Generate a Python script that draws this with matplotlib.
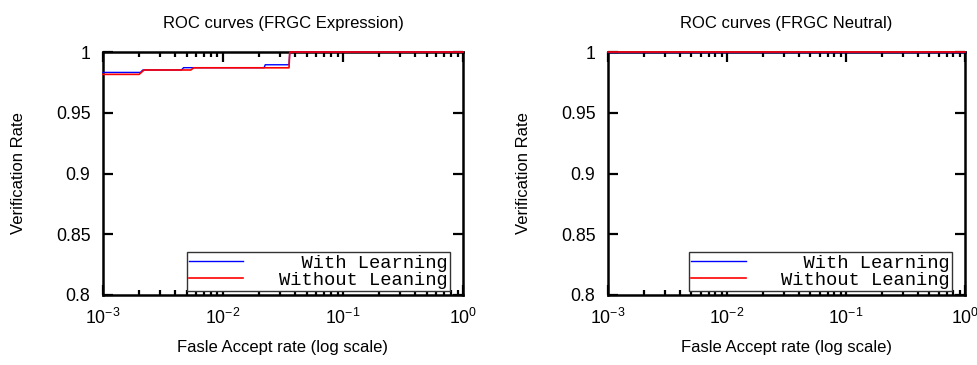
import numpy as np
import matplotlib.pyplot as plt
from matplotlib.ticker import LogLocator, FixedLocator

# FRGC Expression ROC (false accept rate, verification rate)
expr_far_with = [1e-3, 0.00205, 0.00215, 0.0045, 0.0047, 0.022, 0.0225, 0.0355, 0.036, 1.0]
expr_vr_with = [0.9832, 0.9832, 0.9852, 0.9852, 0.9871, 0.9871, 0.9895, 0.9895, 1.0, 1.0]
expr_far_without = [1e-3, 0.0020, 0.0022, 0.0054, 0.0057, 0.0355, 0.036, 1.0]
expr_vr_without = [0.9816, 0.9816, 0.9852, 0.9852, 0.9870, 0.9870, 1.0, 1.0]

# FRGC Neutral ROC
neut_far_with = [1e-3, 1.0]
neut_vr_with = [1.0, 1.0]
neut_far_without = [1e-3, 1.0]
neut_vr_without = [1.0, 1.0]

titles = ['ROC curves (FRGC Expression)', 'ROC curves (FRGC Neutral)']
legend_labels = ['  With Learning', 'Without Leaning']
yticks = [0.8, 0.85, 0.9, 0.95, 1.0]
ytick_labels = ['0.8', '0.85', '0.9', '0.95', '1']

plt.rcParams['font.family'] = ['Liberation Sans', 'DejaVu Sans']
plt.rcParams['mathtext.fontset'] = 'custom'
plt.rcParams['mathtext.rm'] = 'Liberation Sans'
plt.rcParams['mathtext.it'] = 'Liberation Sans'

fig = plt.figure(figsize=(9.77, 3.65), dpi=100)
ax1 = fig.add_axes([0.1054, 0.1918, 0.3685, 0.6657])
ax2 = fig.add_axes([0.6223, 0.1918, 0.3654, 0.6657])

data = [
    (expr_far_with, expr_vr_with, expr_far_without, expr_vr_without),
    (neut_far_with, neut_vr_with, neut_far_without, neut_vr_without),
]

for ax, title, (fw, vw, fo, vo) in zip([ax1, ax2], titles, data):
    ax.plot(fw, vw, color='#0000ff', lw=1.0, label=legend_labels[0], clip_on=False, zorder=3)
    ax.plot(fo, vo, color='#ff0000', lw=1.2, label=legend_labels[1], clip_on=False, zorder=3)
    ax.set_xscale('log')
    ax.set_xlim(1e-3, 1)
    ax.set_ylim(0.8, 1.0)
    ax.yaxis.set_major_locator(FixedLocator(yticks))
    ax.set_yticklabels(ytick_labels)
    ax.xaxis.set_major_locator(LogLocator(base=10, numticks=10))
    ax.xaxis.set_minor_locator(LogLocator(base=10, subs=np.arange(2, 10), numticks=20))
    ax.tick_params(which='both', direction='in', top=True, right=True, labelsize=12.8)
    ax.tick_params(axis='x', pad=9)
    ax.tick_params(axis='y', pad=9)
    ax.tick_params(which='major', length=7, width=1.6)
    ax.tick_params(which='minor', length=3.5, width=1.6)
    for s in ax.spines.values():
        s.set_linewidth(1.8)
    ax.set_title(title, fontsize=12, pad=17)
    ax.set_xlabel('Fasle Accept rate (log scale)', fontsize=12, va='top')
    ax.xaxis.set_label_coords(0.5, -0.185)
    ax.set_ylabel('Verification Rate', fontsize=12, va='bottom')
    ax.yaxis.set_label_coords(-0.215, 0.5)
    leg = ax.legend(loc='lower right', bbox_to_anchor=(0.964, 0.0165),
                    prop={'family': 'Liberation Mono', 'size': 13.5},
                    frameon=True, fancybox=False, handlelength=2.9, handletextpad=1.9,
                    borderpad=0.12, labelspacing=0.0, borderaxespad=0.0)
    leg.get_frame().set_edgecolor('#333333')
    leg.get_frame().set_linewidth(1.0)
    leg.get_frame().set_alpha(None)
    leg.get_frame().set_facecolor('white')

fig.savefig('out.png', dpi=100)
